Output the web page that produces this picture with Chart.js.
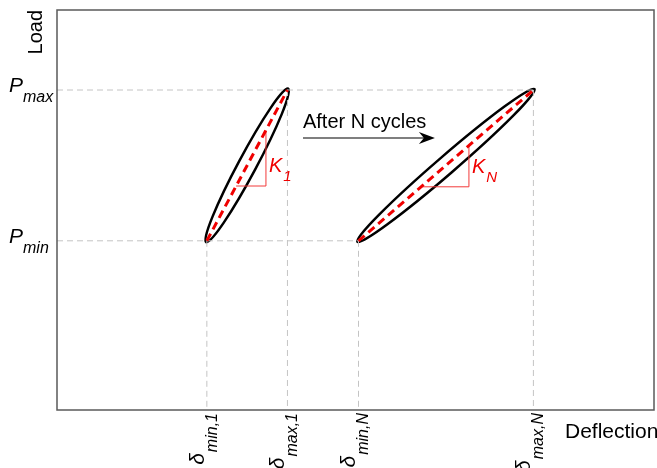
<!DOCTYPE html>
<html>
<head>
<meta charset="utf-8">
<script src="https://cdn.jsdelivr.net/npm/chart.js@4.4.1/dist/chart.umd.min.js"></script>
<style>
  html, body { margin: 0; padding: 0; background: #fff; }
  #wrap { width: 657px; height: 468px; }
</style>
</head>
<body>
<div id="wrap"><canvas id="chart"></canvas></div>
<script>
// --- Data (arbitrary units 0..100) ---
const loadLevels = [42.3, 80];                       // P_min, P_max
const loadLabels = ['min', 'max'];
const deflectionTicks = [25.1, 38.6, 50.5, 79.8];    // δ_min,1 δ_max,1 δ_min,N δ_max,N
const deflectionLabels = ['min,1', 'max,1', 'min,N', 'max,N'];
const slopeNames = ['1', 'N'];
const slopeLeftX = [30.0, 61.0];
const slopeCornerX = [35.0, 69.0];
const slopeCornerY = [56.0, 55.8];
const slopeTopY = [69.9, 66.1];

// annotation "After N cycles"
const arrowFromX = 41.2, arrowToX = 63.3, arrowY = 68;

const FONT = '"Liberation Sans", Arial, sans-serif';
const pMin = loadLevels[0], pMax = loadLevels[1];

// --- Helpers ---
function seg(x1, y1, x2, y2) {
  return [{ x: x1, y: y1 }, { x: x2, y: y2 }];
}

function guide(points) {
  return {
    data: points, showLine: true, pointRadius: 0,
    borderColor: '#c4c4c4', borderWidth: 1, borderDash: [6, 4], order: 3
  };
}

// grey dashed guides
const guides = [
  guide(seg(0, pMax, deflectionTicks[3], pMax)),
  guide(seg(0, pMin, deflectionTicks[2], pMin)),
  guide(seg(deflectionTicks[0], pMin, deflectionTicks[0], 0)),
  guide(seg(deflectionTicks[1], pMax, deflectionTicks[1], 0)),
  guide(seg(deflectionTicks[2], pMin, deflectionTicks[2], 0)),
  guide(seg(deflectionTicks[3], pMax, deflectionTicks[3], 0))
];

// red dashed secant lines of each loop
const secants = [0, 1].map(i => ({
  data: seg(deflectionTicks[i * 2], pMin, deflectionTicks[i * 2 + 1], pMax),
  showLine: true, pointRadius: 0,
  borderColor: '#f00000', borderWidth: 3, borderDash: [8, 5], order: 1
}));

// slope triangles
const triangles = [0, 1].map(i => ({
  data: [
    { x: slopeLeftX[i], y: slopeCornerY[i] },
    { x: slopeCornerX[i], y: slopeCornerY[i] },
    { x: slopeCornerX[i], y: slopeTopY[i] }
  ],
  showLine: true, pointRadius: 0,
  borderColor: '#f23a3a', borderWidth: 1, order: 2
}));

// --- Drawing plugin: frame, loops, labels ---
const decorPlugin = {
  id: 'decor',
  beforeDatasetsDraw(chart) {
    const { ctx, scales: { x, y } } = chart;
    ctx.save();
    ctx.strokeStyle = '#000';
    ctx.lineWidth = 2.5;
    [0, 1].forEach(i => {
      const x1 = x.getPixelForValue(deflectionTicks[i * 2]);
      const x2 = x.getPixelForValue(deflectionTicks[i * 2 + 1]);
      const y1 = y.getPixelForValue(pMin);
      const y2 = y.getPixelForValue(pMax);
      const cx = (x1 + x2) / 2, cy = (y1 + y2) / 2;
      const half = Math.hypot(x2 - x1, y2 - y1) / 2 + 1.5;
      const ang = Math.atan2(y2 - y1, x2 - x1);
      ctx.beginPath();
      ctx.ellipse(cx, cy, half, 9, ang, 0, Math.PI * 2);
      ctx.stroke();
    });
    ctx.restore();
  },
  afterDraw(chart) {
    const { ctx, chartArea: a, scales: { x, y } } = chart;
    ctx.save();

    // frame
    ctx.strokeStyle = '#5a5a5a';
    ctx.lineWidth = 1.5;
    ctx.strokeRect(a.left, a.top, a.right - a.left, a.bottom - a.top);

    // axis titles
    ctx.fillStyle = '#000';
    ctx.font = '21px ' + FONT;
    ctx.textBaseline = 'alphabetic';
    ctx.fillText('Deflection', 565, 438);
    ctx.save();
    ctx.translate(42, a.top);
    ctx.rotate(-Math.PI / 2);
    ctx.textAlign = 'right';
    ctx.font = '20px ' + FONT;
    ctx.fillText('Load', 0, 0);
    ctx.restore();

    // P labels
    loadLevels.forEach((v, i) => {
      const py = y.getPixelForValue(v);
      ctx.font = 'italic 21px ' + FONT;
      ctx.textAlign = 'left';
      ctx.fillText('P', 9, py + 2);
      ctx.font = 'italic 16px ' + FONT;
      ctx.fillText(loadLabels[i], 23, py + 12);
    });

    // delta labels, rotated
    deflectionTicks.forEach((v, i) => {
      const px = x.getPixelForValue(v);
      ctx.save();
      ctx.translate(px, a.bottom);
      ctx.rotate(-Math.PI / 2);
      ctx.font = 'italic 16px ' + FONT;
      const subW = ctx.measureText(deflectionLabels[i]).width;
      ctx.font = 'italic 21px ' + FONT;
      const dW = ctx.measureText('δ').width;
      const start = -(3 + dW + 1 + subW);
      ctx.textAlign = 'left';
      ctx.fillText('δ', start, -3);
      ctx.font = 'italic 16px ' + FONT;
      ctx.fillText(deflectionLabels[i], start + dW + 1, 10);
      ctx.restore();
    });

    // K labels
    ctx.fillStyle = '#f00000';
    slopeNames.forEach((s, i) => {
      const px = x.getPixelForValue(slopeCornerX[i]) + 3;
      const py = y.getPixelForValue(slopeCornerY[i]) - 14;
      ctx.font = 'italic 20px ' + FONT;
      ctx.textAlign = 'left';
      ctx.fillText('K', px, py);
      const kw = ctx.measureText('K').width;
      ctx.font = 'italic 15px ' + FONT;
      ctx.fillText(s, px + kw + 1, py + 9);
    });

    // arrow + text
    const ax1 = x.getPixelForValue(arrowFromX);
    const ax2 = x.getPixelForValue(arrowToX);
    const ay = y.getPixelForValue(arrowY);
    ctx.fillStyle = '#000';
    ctx.strokeStyle = '#000';
    ctx.lineWidth = 1.2;
    ctx.beginPath();
    ctx.moveTo(ax1, ay);
    ctx.lineTo(ax2 - 8, ay);
    ctx.stroke();
    ctx.beginPath();
    ctx.moveTo(ax2, ay);
    ctx.lineTo(ax2 - 16, ay - 6);
    ctx.lineTo(ax2 - 11, ay);
    ctx.lineTo(ax2 - 16, ay + 6);
    ctx.closePath();
    ctx.fill();
    ctx.font = '20px ' + FONT;
    ctx.textAlign = 'left';
    ctx.fillText('After N cycles', ax1, ay - 10);

    ctx.restore();
  }
};

new Chart(document.getElementById('chart'), {
  type: 'scatter',
  data: { datasets: [...guides, ...triangles, ...secants] },
  options: {
    responsive: true,
    maintainAspectRatio: false,
    animation: false,
    layout: { padding: { left: 57, top: 10, right: 3, bottom: 58 } },
    scales: {
      x: { type: 'linear', min: 0, max: 100, display: false },
      y: { type: 'linear', min: 0, max: 100, display: false }
    },
    plugins: { legend: { display: false }, tooltip: { enabled: false } }
  },
  plugins: [decorPlugin]
});
</script>
</body>
</html>
